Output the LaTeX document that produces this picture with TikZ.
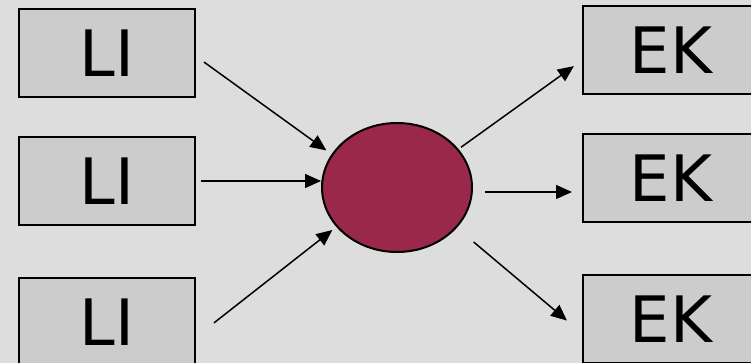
\documentclass[tikz,border=0pt]{standalone}
\usepackage{fontspec}
\setmainfont{DejaVu Sans}
\usepackage{xcolor}
\usepackage{tikz}
\usetikzlibrary{shapes.geometric,arrows.meta}
\definecolor{DGBack}{HTML}{DDDDDD}
\definecolor{DGBox}{HTML}{CCCCCC}
\definecolor{DGHub}{HTML}{99284B}

\begin{document}
\begin{tikzpicture}[x=0.5pt,y=-0.5pt,
  unitbox/.style={draw=black,line width=1pt,fill=DGBox,minimum width=88pt,
    minimum height=44pt,inner sep=0pt,font=\fontsize{32}{36}\selectfont},
  hubnode/.style={ellipse,draw=black,line width=1pt,fill=DGHub,
    minimum width=75pt,minimum height=64.5pt,inner sep=0pt},
  arr/.style={-{Triangle[length=8pt,width=7pt]},line width=.75pt}]
\path[use as bounding box] (0,0) rectangle (751,363);
\fill[DGBack] (0,0) rectangle (751,363);
\clip (0,0) rectangle (751,363);
% inputs
\node[unitbox] (li1) at (107,53) {LI};
\node[unitbox] (li2) at (107,181) {LI};
\node[unitbox] (li3) at (107,322) {LI};
% outputs
\node[unitbox] (ek1) at (671,50.5) {EK};
\node[unitbox] (ek2) at (671,178.5) {EK};
\node[unitbox] (ek3) at (671,319.5) {EK};
% centre
\node[hubnode] (hub) at (397,187.5) {};
\coordinate (e2in) at ([yshift=-6.75pt]ek2.west);
\draw[arr,shorten <=4.9pt,shorten >=3.2pt] ([yshift=-1.65pt]li1.east) -- (hub.153);
\draw[arr,shorten <=2.5pt] (li2.east) -- (li2.east -| hub.west);
\draw[arr,shorten <=11.4pt,shorten >=2.5pt] ([yshift=-7.5pt]li3.east) -- (hub.213);
\draw[arr,shorten <=1.5pt,shorten >=5pt] (hub.32) -- ([yshift=-4.9pt]ek1.west);
\draw[arr,shorten <=6pt,shorten >=5pt] (e2in -| hub.east) -- (e2in);
\draw[arr,shorten <=11pt,shorten >=9.8pt] (hub.-34) -- ([yshift=-6.85pt]ek3.west);
\end{tikzpicture}
\end{document}
